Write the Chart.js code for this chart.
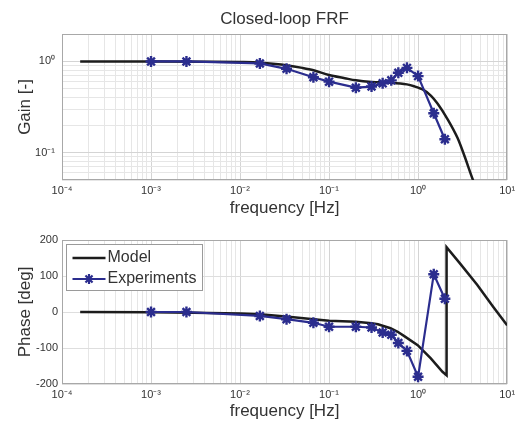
<!DOCTYPE html>
<html><head><meta charset="utf-8">
<script src="https://cdn.jsdelivr.net/npm/chart.js@4.4.0/dist/chart.umd.min.js"></script>
<style>
html,body{margin:0;padding:0;background:#fff;}
#wrap{position:relative;width:515px;height:425px;overflow:hidden;background:#fff;}
#c1box{position:absolute;left:0;top:0;width:515px;height:222px;}
#c2box{position:absolute;left:0;top:222px;width:515px;height:203px;}
canvas{display:block;}
</style></head><body>
<div id="wrap">
  <div id="c1box"><canvas id="c1" width="515" height="222"></canvas></div>
  <div id="c2box"><canvas id="c2" width="515" height="203"></canvas></div>
</div>
<script>
// ---- data ----
const expFreq  = [0.001, 0.0025, 0.0167, 0.0333, 0.0667, 0.1, 0.2, 0.3, 0.4, 0.5, 0.6, 0.75, 1.0, 1.5, 2.0];
const expGain  = [1.0, 1.0, 0.95, 0.83, 0.67, 0.60, 0.515, 0.53, 0.575, 0.62, 0.75, 0.85, 0.69, 0.27, 0.14];
const expPhase = [0, 0, -11, -20, -30, -41, -41, -43, -57, -63, -86, -108, -180, 105, 37];

const modelGainFreq = [0.00016, 0.001, 0.005, 0.01, 0.0167, 0.025, 0.033, 0.05, 0.067, 0.1, 0.15, 0.2, 0.3, 0.5, 0.75, 0.9, 1.0, 1.125, 1.4, 1.66, 2.14, 2.77, 3.29, 4.17, 5.0];
const modelGain     = [1.0, 1.0, 0.995, 0.985, 0.97, 0.94, 0.91, 0.85, 0.80, 0.71, 0.655, 0.62, 0.595, 0.585, 0.56, 0.535, 0.515, 0.494, 0.42, 0.343, 0.233, 0.145, 0.094, 0.049, 0.032];

const modelPhaseFreq = [0.00016, 0.001, 0.003, 0.01, 0.0167, 0.035, 0.067, 0.1, 0.2, 0.3, 0.354, 0.49, 0.59, 0.7, 0.99, 1.39, 1.88, 2.09, 2.09, 3.0, 4.63, 7.0, 10.0];
const modelPhase     = [0, -1, -2, -4, -6, -13, -20, -24, -27, -31, -34, -45, -55, -67, -92, -129, -166, -176, 180, 133, 75, 14, -37];

const xDecades      = [1e-4, 1e-3, 1e-2, 1e-1, 1, 10];
const xDecadeLabels = ['10⁻⁴', '10⁻³', '10⁻²', '10⁻¹', '10⁰', '10¹'];
const gainDecades      = [0.1, 1];
const gainDecadeLabels = ['10⁻¹', '10⁰'];
const phaseTicks  = [-200, -100, 0, 100, 200];
const phaseLabels = ['-200', '-100', '0', '100', '200'];
const seriesNames = ['Model', 'Experiments'];

// ---- helpers ----
const FONT = "'Liberation Sans', Arial, sans-serif";
const BLUE = '#2b2d8e';
const BLACK = '#1c1c1c';
function minorTicks(min, max) {
  const out = [];
  for (let e = Math.floor(Math.log10(min)); e <= Math.ceil(Math.log10(max)); e++) {
    for (let m = 1; m <= 9; m++) {
      const v = m * Math.pow(10, e);
      if (v >= min * 0.9999 && v <= max * 1.0001) out.push(v);
    }
  }
  return out;
}
function decadeLabel(v, decs, labs) {
  for (let i = 0; i < decs.length; i++) {
    if (Math.abs(Math.log10(v) - Math.log10(decs[i])) < 1e-6) return labs[i];
  }
  return '';
}
function isDecade(v) { return Math.abs(Math.log10(v) - Math.round(Math.log10(v))) < 1e-6; }
const pts = (xs, ys) => xs.map((x, i) => ({x: x, y: ys[i]}));

const framePlugin = {
  id: 'frame',
  beforeDatasetsDraw(chart) {
    const a = chart.chartArea, ctx = chart.ctx;
    ctx.save();
    ctx.strokeStyle = '#a8a8a8';
    ctx.lineWidth = 1;
    ctx.strokeRect(Math.round(a.left) + 0.5, Math.round(a.top) + 0.5, Math.round(a.right - a.left) - 1, Math.round(a.bottom - a.top) - 1);
    ctx.restore();
  }
};

function xScale(height) {
  return {
    type: 'logarithmic', min: 1e-4, max: 10,
    afterBuildTicks(s) { s.ticks = minorTicks(1e-4, 10).map(v => ({value: v})); },
    afterFit(s) { s.height = height; s.paddingLeft = 0; s.paddingRight = 0; },
    ticks: { autoSkip: false, maxRotation: 0, minRotation: 0, padding: 4, color: '#333',
      font: {family: FONT, size: 11},
      callback: (v) => decadeLabel(v, xDecades, xDecadeLabels) },
    grid: { drawTicks: false, color: (c) => (c.tick && isDecade(c.tick.value)) ? '#d4d4d4' : '#e6e6e6' },
    border: { display: false },
    title: { display: true, text: 'frequency [Hz]', color: '#333', font: {family: FONT, size: 17}, padding: {top: 0, bottom: 3} }
  };
}

// ---- top chart: gain ----
new Chart(document.getElementById('c1'), {
  type: 'line',
  data: { datasets: [
    { label: seriesNames[1], data: pts(expFreq, expGain), borderColor: BLUE, backgroundColor: BLUE,
      borderWidth: 2.2, pointStyle: 'star', pointRadius: 5.5, pointBorderWidth: 2.4, pointBorderColor: BLUE, tension: 0 },
    { label: seriesNames[0], data: pts(modelGainFreq, modelGain), borderColor: BLACK, backgroundColor: BLACK,
      borderWidth: 2.5, pointRadius: 0, cubicInterpolationMode: 'monotone' }
  ]},
  options: {
    responsive: false, animation: false, events: [],
    layout: { padding: {top: 0, right: 5, left: 0, bottom: 0} },
    plugins: {
      legend: {display: false}, tooltip: {enabled: false},
      title: { display: true, text: 'Closed-loop FRF', fullSize: false, color: '#333',
        font: {family: FONT, size: 17, weight: 'normal', lineHeight: 1.2}, padding: {top: 9, bottom: 4.6} }
    },
    scales: {
      x: xScale(42),
      y: {
        type: 'logarithmic', min: 0.05, max: 2,
        afterBuildTicks(s) { s.ticks = minorTicks(0.05, 2).map(v => ({value: v})); },
        afterFit(s) { s.width = 62; s.paddingTop = 0; s.paddingBottom = 0; },
        ticks: { autoSkip: false, padding: 7, color: '#333', font: {family: FONT, size: 11},
          callback: (v) => decadeLabel(v, gainDecades, gainDecadeLabels) },
        grid: { drawTicks: false, color: (c) => (c.tick && isDecade(c.tick.value)) ? '#d4d4d4' : '#e6e6e6' },
        border: { display: false },
        title: { display: true, text: 'Gain [-]', color: '#333', font: {family: FONT, size: 17}, padding: {top: 15, bottom: 0} }
      }
    }
  },
  plugins: [framePlugin]
});

// ---- bottom chart: phase ----
const legendPlugin = {
  id: 'boxLegend',
  afterDraw(chart) {
    const a = chart.chartArea, ctx = chart.ctx;
    const L = Math.round(a.left) + 4.5, T = Math.round(a.top) + 4.5, W = 136, H = 46;
    ctx.save();
    ctx.fillStyle = '#fff';
    ctx.fillRect(L, T, W, H);
    ctx.strokeStyle = '#9a9a9a'; ctx.lineWidth = 1;
    ctx.strokeRect(L, T, W, H);
    ctx.font = '16px ' + FONT;
    ctx.textBaseline = 'middle';
    // Model first, then Experiments
    const order = [chart.data.datasets[1], chart.data.datasets[0]];
    order.forEach((ds, i) => {
      const y = T + 13.5 + i * 21;
      ctx.strokeStyle = ds.borderColor; ctx.lineWidth = ds.borderWidth;
      ctx.beginPath(); ctx.moveTo(L + 6, y); ctx.lineTo(L + 39, y); ctx.stroke();
      if (ds.pointStyle === 'star') {
        const cx = L + 22.5, r = 5;
        ctx.lineWidth = 2.2;
        ctx.beginPath();
        for (let k = 0; k < 4; k++) {
          const ang = k * Math.PI / 4;
          ctx.moveTo(cx - r * Math.cos(ang), y - r * Math.sin(ang));
          ctx.lineTo(cx + r * Math.cos(ang), y + r * Math.sin(ang));
        }
        ctx.stroke();
      }
      ctx.fillStyle = '#333';
      ctx.fillText(ds.label, L + 41, y);
    });
    ctx.restore();
  }
};

new Chart(document.getElementById('c2'), {
  type: 'line',
  data: { datasets: [
    { label: seriesNames[1], data: pts(expFreq, expPhase), borderColor: BLUE, backgroundColor: BLUE,
      borderWidth: 2.2, pointStyle: 'star', pointRadius: 5.5, pointBorderWidth: 2.4, pointBorderColor: BLUE, tension: 0 },
    { label: seriesNames[0], data: pts(modelPhaseFreq, modelPhase), borderColor: BLACK, backgroundColor: BLACK,
      borderWidth: 2.5, pointRadius: 0, tension: 0 }
  ]},
  options: {
    responsive: false, animation: false, events: [],
    layout: { padding: {top: 18, right: 5, left: 0, bottom: 0} },
    plugins: { legend: {display: false}, tooltip: {enabled: false}, title: {display: false} },
    scales: {
      x: xScale(41),
      y: {
        type: 'linear', min: -200, max: 200,
        afterBuildTicks(s) { s.ticks = phaseTicks.map(v => ({value: v})); },
        afterFit(s) { s.width = 62; s.paddingTop = 0; s.paddingBottom = 0; },
        ticks: { autoSkip: false, padding: 4, color: '#333', font: {family: FONT, size: 11},
          callback: (v) => phaseLabels[phaseTicks.indexOf(v)] },
        grid: { drawTicks: false, color: '#dedede' },
        border: { display: false },
        title: { display: true, text: 'Phase [deg]', color: '#333', font: {family: FONT, size: 17}, padding: {top: 15, bottom: 0} }
      }
    }
  },
  plugins: [framePlugin, legendPlugin]
});
</script>
</body></html>
